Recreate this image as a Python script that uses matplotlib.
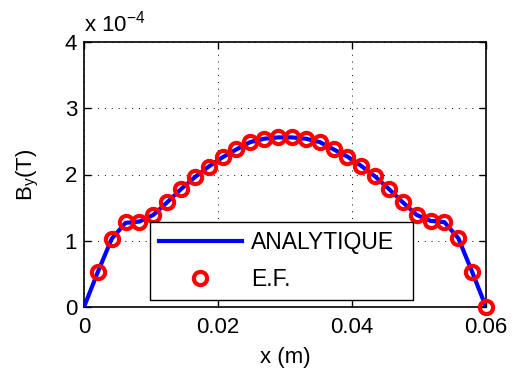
import matplotlib
matplotlib.use("Agg")
import matplotlib.pyplot as plt
from matplotlib.ticker import FuncFormatter

plt.rcParams['font.family'] = ['Liberation Sans', 'DejaVu Sans']

# noeuds du maillage (29 intervalles sur 0.06 m)
x_ef = [0.06 * k / 29 for k in range(1, 30)]
# induction By en unites de 1e-4 T
by_ef = [0.53, 1.03, 1.28, 1.28, 1.39, 1.58, 1.78, 1.96, 2.12, 2.26,
         2.38, 2.49, 2.54, 2.56, 2.56, 2.54, 2.49, 2.38, 2.27, 2.13,
         1.97, 1.78, 1.58, 1.39, 1.30, 1.29, 1.04, 0.53, 0.0]

x_an = [0.0] + x_ef
by_an = [0.0, 0.53, 1.03, 1.27, 1.29, 1.39, 1.58, 1.78, 1.96, 2.12, 2.26,
         2.38, 2.49, 2.54, 2.56, 2.56, 2.54, 2.49, 2.38, 2.27, 2.13,
         1.97, 1.78, 1.58, 1.39, 1.30, 1.28, 1.04, 0.53, 0.0]

scale = 1e-4
fs = 16

fig = plt.figure(figsize=(5.21, 3.75), dpi=100)
ax = fig.add_axes([84 / 521, 68 / 375, 402 / 521, 265 / 375])

ax.plot(x_an, [v * scale for v in by_an], color='#0000ff', lw=3.0,
        label='ANALYTIQUE', zorder=3)
ax.plot(x_ef, [v * scale for v in by_ef], 'o', mfc='none', mec='#ff0000',
        ms=9.5, mew=3.0, label='E.F.', zorder=4, clip_on=False)

ax.set_xlim(0, 0.06)
ax.set_ylim(0, 4e-4)
ax.set_xticks([0, 0.02, 0.04, 0.06])
ax.set_xticklabels(['0', '0.02', '0.04', '0.06'])
ax.set_yticks([i * scale for i in range(5)])
ax.yaxis.set_major_formatter(FuncFormatter(lambda v, p: '%g' % round(v / scale, 6)))

ax.grid(True, color='black', linestyle=(0, (1, 6)), linewidth=0.7)
ax.tick_params(direction='in', top=True, right=True, labelsize=fs, length=5, width=1)
ax.tick_params(axis='x', pad=7)
ax.tick_params(axis='y', pad=5)
for s in ax.spines.values():
    s.set_linewidth(1.2)

ax.set_xlabel('x (m)', fontsize=fs, labelpad=7)
ax.set_ylabel('B$_\\mathregular{y}$(T)', fontsize=fs, labelpad=17)
ax.text(0.0, 1.02, 'x 10$^{\\mathregular{-4}}$', transform=ax.transAxes,
        fontsize=fs, ha='left', va='bottom')

leg = ax.legend(loc='lower left', bbox_to_anchor=(0.164, 0.026, 0.654, 0.287),
                mode='expand', fontsize=16.5, fancybox=False, framealpha=1,
                edgecolor='black', handlelength=3.6, borderpad=0.4,
                labelspacing=0.6, handletextpad=0.4, borderaxespad=0)
leg.get_frame().set_linewidth(1.0)
leg.set_zorder(5)

fig.savefig('out.png', dpi=100)
